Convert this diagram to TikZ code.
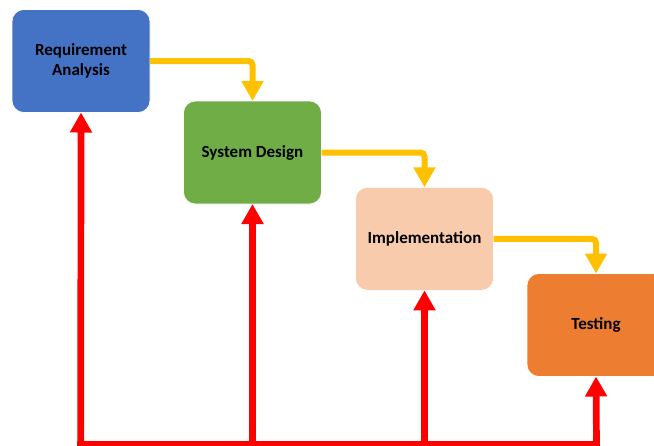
\documentclass[tikz,border=0pt]{standalone}
\usepackage{fontspec}
\setmainfont{Carlito}
\usetikzlibrary{arrows.meta}
\definecolor{cblue}{HTML}{4472C4}
\definecolor{cgreen}{HTML}{70AD47}
\definecolor{cpeach}{HTML}{F8CBAD}
\definecolor{corange}{HTML}{ED7D31}
\definecolor{cyel}{HTML}{FFC000}
\definecolor{cred}{HTML}{FF0000}
\tikzset{
  stage/.style={draw=white, line width=0.6pt, rounded corners=12pt, minimum width=138pt, minimum height=103pt,
    inner sep=0pt, outer sep=0pt, align=center, font=\fontsize{17}{20}\selectfont\bfseries, text=black},
  flowarrow/.style={draw=cyel, line width=6pt, rounded corners=4pt, -{Triangle[width=21pt,length=20pt]}},
  backarrow/.style={draw=cred, line width=6.7pt, -{Triangle[width=21pt,length=20pt]}},
  backline/.style={draw=cred, line width=6.7pt, line cap=rect},
}
\begin{document}
\begin{tikzpicture}[x=1pt,y=-1pt]
\useasboundingbox (0,0) rectangle (654,445);
\clip (0,0) rectangle (654,445);
\node[stage, fill=cblue] (b1) at (81,61) {Requirement\\Analysis};
\node[stage, fill=cgreen] (b2) at (252.5,152.5) {System Design};
\node[stage, fill=cpeach] (b3) at (424.5,238.8) {Implementation};
\node[stage, fill=corange] (b4) at (596,325) {Testing};
\draw[flowarrow] (b1.east) -| (b2.north);
\draw[flowarrow] (b2.east) -| (b3.north);
\draw[flowarrow] (b3.east) -| (b4.north);
\coordinate (r1) at (80.7,444.5);
\coordinate (r2) at (252.5,444.5);
\coordinate (r3) at (424.5,444.5);
\coordinate (r4) at (596.5,444.5);
\draw[backline] (r1) -- (r4);
\draw[backarrow] (r1) -- (b1.south);
\draw[backarrow] (r2) -- (b2.south);
\draw[backarrow] (r3) -- (b3.south);
\draw[backarrow] (r4) -- (b4.south);
\end{tikzpicture}
\end{document}
